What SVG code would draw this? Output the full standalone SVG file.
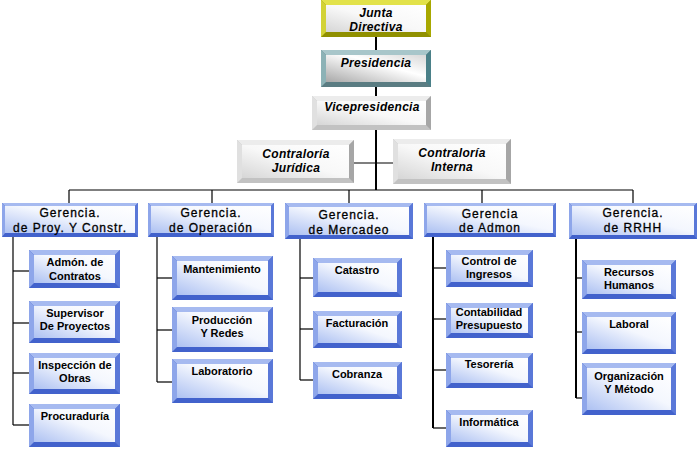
<svg xmlns="http://www.w3.org/2000/svg" width="699" height="455" viewBox="0 0 699 455">
<defs>
<linearGradient id="gBlue" x1="1" y1="0" x2="0" y2="1">
<stop offset="0" stop-color="#ffffff"/><stop offset="0.45" stop-color="#f4f7fe"/><stop offset="1" stop-color="#adc1f2"/>
</linearGradient>
<linearGradient id="gGray" x1="1" y1="0" x2="0" y2="1">
<stop offset="0" stop-color="#ffffff"/><stop offset="0.5" stop-color="#f8f8f8"/><stop offset="1" stop-color="#d6d6d6"/>
</linearGradient>
<linearGradient id="gPres" x1="1" y1="0" x2="0" y2="1">
<stop offset="0" stop-color="#d8d8d8"/><stop offset="0.4" stop-color="#ffffff"/><stop offset="1" stop-color="#a8a8a8"/>
</linearGradient>
</defs>
<style>
text{font-family:"Liberation Sans",Arial,sans-serif;fill:#000;text-anchor:middle}
.c{font-size:11px;font-weight:bold}
.g{font-size:12px;letter-spacing:1px;stroke:#000;stroke-width:0.3}
.t{font-size:12px;font-weight:bold;font-style:italic;letter-spacing:0.3px}
.b .bt{fill:#a6baf0}.b .bl{fill:#8ea6ea}.b .br{fill:#5a78d8}.b .bb{fill:#4262cc}.b .f{fill:url(#gBlue)}
.y .bt{fill:#e2e24a}.y .bl{fill:#d2d236}.y .br{fill:#a8a800}.y .bb{fill:#909000}.y .f{fill:url(#gGray)}
.p .bt{fill:#a8c6ca}.p .bl{fill:#8cb2b6}.p .br{fill:#4a8088}.p .bb{fill:#5a7c82}.p .f{fill:url(#gPres)}
.s .bt{fill:#ececec}.s .bl{fill:#e0e0e0}.s .br{fill:#a6a6a6}.s .bb{fill:#c2c2c2}.s .f{fill:url(#gGray)}
#conn line{stroke:#000;stroke-width:1.2}
#conn .tr{stroke-width:2}
</style>

<g id="conn">
<line class="tr" x1="376" y1="37" x2="376" y2="50"/>
<line class="tr" x1="376" y1="87" x2="376" y2="96"/>
<line class="tr" x1="376" y1="130" x2="376" y2="190"/>
<line x1="354" y1="163" x2="393" y2="163"/>
<line x1="69" y1="190" x2="633" y2="190"/>
<line x1="69" y1="190" x2="69" y2="203"/>
<line x1="212" y1="190" x2="212" y2="203"/>
<line x1="349" y1="190" x2="349" y2="203"/>
<line x1="482" y1="190" x2="482" y2="203"/>
<line x1="633" y1="190" x2="633" y2="203"/>
<line x1="13" y1="237" x2="13" y2="425"/>
<line x1="13" y1="271" x2="29" y2="271"/>
<line x1="13" y1="323" x2="29" y2="323"/>
<line x1="13" y1="373" x2="29" y2="373"/>
<line x1="13" y1="425" x2="29" y2="425"/>
<line x1="157" y1="237" x2="157" y2="382"/>
<line x1="157" y1="278" x2="172" y2="278"/>
<line x1="157" y1="330" x2="172" y2="330"/>
<line x1="157" y1="382" x2="172" y2="382"/>
<line x1="300" y1="239" x2="300" y2="380"/>
<line x1="300" y1="278" x2="313" y2="278"/>
<line x1="300" y1="329" x2="313" y2="329"/>
<line x1="300" y1="380" x2="313" y2="380"/>
<line class="tr" x1="433" y1="237" x2="433" y2="428"/>
<line x1="433" y1="268" x2="446" y2="268"/>
<line x1="433" y1="319" x2="446" y2="319"/>
<line x1="433" y1="370" x2="446" y2="370"/>
<line x1="433" y1="428" x2="446" y2="428"/>
<line class="tr" x1="576" y1="239" x2="576" y2="398"/>
<line x1="576" y1="278" x2="582" y2="278"/>
<line x1="576" y1="332" x2="582" y2="332"/>
<line x1="576" y1="398" x2="582" y2="398"/>
</g>

<!-- Top level -->
<g id="junta" class="y" transform="translate(321,0)">
<rect class="bb" width="110" height="37"/>
<polygon class="bt" points="0,0 110,0 105,5 5,5"/><polygon class="bl" points="0,0 5,5 5,32 0,37"/><polygon class="br" points="110,0 110,37 105,32 105,5"/>
<rect class="f" x="5" y="5" width="100" height="27"/>
<text class="t" x="55" y="17">Junta</text><text class="t" x="55" y="31">Directiva</text>
</g>
<g id="presidencia" class="p" transform="translate(321,50)">
<rect class="bb" width="110" height="37"/>
<polygon class="bt" points="0,0 110,0 105,5 5,5"/><polygon class="bl" points="0,0 5,5 5,32 0,37"/><polygon class="br" points="110,0 110,37 105,32 105,5"/>
<rect class="f" x="5" y="5" width="100" height="27"/>
<text class="t" x="55" y="17">Presidencia</text>
</g>
<g id="vicepresidencia" class="s" transform="translate(312,96)">
<rect class="bb" width="119" height="34"/>
<polygon class="bt" points="0,0 119,0 114,5 5,5"/><polygon class="bl" points="0,0 5,5 5,29 0,34"/><polygon class="br" points="119,0 119,34 114,29 114,5"/>
<rect class="f" x="5" y="5" width="109" height="24"/>
<text class="t" x="60" y="15">Vicepresidencia</text>
</g>
<g id="contraloria-juridica" class="s" transform="translate(237,140)">
<rect class="bb" width="117" height="43"/>
<polygon class="bt" points="0,0 117,0 112,5 5,5"/><polygon class="bl" points="0,0 5,5 5,38 0,43"/><polygon class="br" points="117,0 117,43 112,38 112,5"/>
<rect class="f" x="5" y="5" width="107" height="33"/>
<text class="t" x="59" y="18">Contraloría</text><text class="t" x="59" y="32">Jurídica</text>
</g>
<g id="contraloria-interna" class="s" transform="translate(393,139)">
<rect class="bb" width="118" height="45"/>
<polygon class="bt" points="0,0 118,0 113,5 5,5"/><polygon class="bl" points="0,0 5,5 5,40 0,45"/><polygon class="br" points="118,0 118,45 113,40 113,5"/>
<rect class="f" x="5" y="5" width="108" height="35"/>
<text class="t" x="59" y="18">Contraloría</text><text class="t" x="59" y="32">Interna</text>
</g>

<!-- Gerencias -->
<g id="ger-proy" class="b" transform="translate(2,203)">
<rect class="bb" width="136" height="34"/>
<polygon class="bt" points="0,0 136,0 133,3 3,3"/><polygon class="bl" points="0,0 3,3 3,30 0,34"/><polygon class="br" points="136,0 136,34 133,30 133,3"/>
<rect class="f" x="3" y="3" width="130" height="27"/>
<text class="g" x="68" y="14">Gerencia.</text><text class="g" x="68" y="29">de Proy. Y Constr.</text>
</g>
<g id="ger-operacion" class="b" transform="translate(148,203)">
<rect class="bb" width="126" height="34"/>
<polygon class="bt" points="0,0 126,0 123,3 3,3"/><polygon class="bl" points="0,0 3,3 3,30 0,34"/><polygon class="br" points="126,0 126,34 123,30 123,3"/>
<rect class="f" x="3" y="3" width="120" height="27"/>
<text class="g" x="63" y="14">Gerencia.</text><text class="g" x="63" y="29">de Operación</text>
</g>
<g id="ger-mercadeo" class="b" transform="translate(285,203)">
<rect class="bb" width="128" height="36"/>
<polygon class="bt" points="0,0 128,0 124,4 4,4"/><polygon class="bl" points="0,0 4,4 4,32 0,36"/><polygon class="br" points="128,0 128,36 124,32 124,4"/>
<rect class="f" x="4" y="4" width="120" height="28"/>
<text class="g" x="64" y="16">Gerencia.</text><text class="g" x="64" y="31">de Mercadeo</text>
</g>
<g id="ger-admon" class="b" transform="translate(424,203)">
<rect class="bb" width="132" height="34"/>
<polygon class="bt" points="0,0 132,0 129,3 3,3"/><polygon class="bl" points="0,0 3,3 3,30 0,34"/><polygon class="br" points="132,0 132,34 129,30 129,3"/>
<rect class="f" x="3" y="3" width="126" height="27"/>
<text class="g" x="66" y="15">Gerencia</text><text class="g" x="66" y="29">de Admon</text>
</g>
<g id="ger-rrhh" class="b" transform="translate(569,203)">
<rect class="bb" width="128" height="36"/>
<polygon class="bt" points="0,0 128,0 125,3 3,3"/><polygon class="bl" points="0,0 3,3 3,32 0,36"/><polygon class="br" points="128,0 128,36 125,32 125,3"/>
<rect class="f" x="3" y="3" width="122" height="29"/>
<text class="g" x="64" y="14">Gerencia.</text><text class="g" x="64" y="29">de RRHH</text>
</g>

<!-- Proy children -->
<g id="admon-contratos" class="b" transform="translate(29,250)">
<rect class="bb" width="91" height="38"/>
<polygon class="bt" points="0,0 91,0 86,5 5,5"/><polygon class="bl" points="0,0 5,5 5,33 0,38"/><polygon class="br" points="91,0 91,38 86,33 86,5"/>
<rect class="f" x="5" y="5" width="81" height="28"/>
<text class="c" x="46" y="16">Admón. de</text><text class="c" x="46" y="30">Contratos</text>
</g>
<g id="supervisor" class="b" transform="translate(29,301)">
<rect class="bb" width="91" height="42"/>
<polygon class="bt" points="0,0 91,0 86,5 5,5"/><polygon class="bl" points="0,0 5,5 5,37 0,42"/><polygon class="br" points="91,0 91,42 86,37 86,5"/>
<rect class="f" x="5" y="5" width="81" height="32"/>
<text class="c" x="46" y="16">Supervisor</text><text class="c" x="46" y="29">De Proyectos</text>
</g>
<g id="inspeccion" class="b" transform="translate(29,353)">
<rect class="bb" width="91" height="41"/>
<polygon class="bt" points="0,0 91,0 86,5 5,5"/><polygon class="bl" points="0,0 5,5 5,36 0,41"/><polygon class="br" points="91,0 91,41 86,36 86,5"/>
<rect class="f" x="5" y="5" width="81" height="31"/>
<text class="c" x="46" y="16">Inspección de</text><text class="c" x="46" y="29">Obras</text>
</g>
<g id="procuraduria" class="b" transform="translate(29,404)">
<rect class="bb" width="91" height="43"/>
<polygon class="bt" points="0,0 91,0 86,5 5,5"/><polygon class="bl" points="0,0 5,5 5,38 0,43"/><polygon class="br" points="91,0 91,43 86,38 86,5"/>
<rect class="f" x="5" y="5" width="81" height="33"/>
<text class="c" x="46" y="16">Procuraduría</text>
</g>

<!-- Operacion children -->
<g id="mantenimiento" class="b" transform="translate(172,256)">
<rect class="bb" width="101" height="44"/>
<polygon class="bt" points="0,0 101,0 96,5 5,5"/><polygon class="bl" points="0,0 5,5 5,39 0,44"/><polygon class="br" points="101,0 101,44 96,39 96,5"/>
<rect class="f" x="5" y="5" width="91" height="34"/>
<text class="c" x="50" y="17">Mantenimiento</text>
</g>
<g id="produccion" class="b" transform="translate(172,307)">
<rect class="bb" width="101" height="45"/>
<polygon class="bt" points="0,0 101,0 96,5 5,5"/><polygon class="bl" points="0,0 5,5 5,40 0,45"/><polygon class="br" points="101,0 101,45 96,40 96,5"/>
<rect class="f" x="5" y="5" width="91" height="35"/>
<text class="c" x="50" y="17">Producción</text><text class="c" x="50" y="30">Y Redes</text>
</g>
<g id="laboratorio" class="b" transform="translate(172,359)">
<rect class="bb" width="101" height="44"/>
<polygon class="bt" points="0,0 101,0 96,5 5,5"/><polygon class="bl" points="0,0 5,5 5,39 0,44"/><polygon class="br" points="101,0 101,44 96,39 96,5"/>
<rect class="f" x="5" y="5" width="91" height="34"/>
<text class="c" x="50" y="16">Laboratorio</text>
</g>

<!-- Mercadeo children -->
<g id="catastro" class="b" transform="translate(313,258)">
<rect class="bb" width="89" height="39"/>
<polygon class="bt" points="0,0 89,0 84,5 5,5"/><polygon class="bl" points="0,0 5,5 5,34 0,39"/><polygon class="br" points="89,0 89,39 84,34 84,5"/>
<rect class="f" x="5" y="5" width="79" height="29"/>
<text class="c" x="44" y="16">Catastro</text>
</g>
<g id="facturacion" class="b" transform="translate(313,311)">
<rect class="bb" width="89" height="37"/>
<polygon class="bt" points="0,0 89,0 84,5 5,5"/><polygon class="bl" points="0,0 5,5 5,32 0,37"/><polygon class="br" points="89,0 89,37 84,32 84,5"/>
<rect class="f" x="5" y="5" width="79" height="27"/>
<text class="c" x="44" y="16">Facturación</text>
</g>
<g id="cobranza" class="b" transform="translate(313,362)">
<rect class="bb" width="89" height="37"/>
<polygon class="bt" points="0,0 89,0 84,5 5,5"/><polygon class="bl" points="0,0 5,5 5,32 0,37"/><polygon class="br" points="89,0 89,37 84,32 84,5"/>
<rect class="f" x="5" y="5" width="79" height="27"/>
<text class="c" x="44" y="16">Cobranza</text>
</g>

<!-- Admon children -->
<g id="control-ingresos" class="b" transform="translate(446,250)">
<rect class="bb" width="87" height="37"/>
<polygon class="bt" points="0,0 87,0 82,5 5,5"/><polygon class="bl" points="0,0 5,5 5,32 0,37"/><polygon class="br" points="87,0 87,37 82,32 82,5"/>
<rect class="f" x="5" y="5" width="77" height="27"/>
<text class="c" x="43" y="15">Control de</text><text class="c" x="43" y="28">Ingresos</text>
</g>
<g id="contabilidad" class="b" transform="translate(446,303)">
<rect class="bb" width="87" height="35"/>
<polygon class="bt" points="0,0 87,0 82,5 5,5"/><polygon class="bl" points="0,0 5,5 5,30 0,35"/><polygon class="br" points="87,0 87,35 82,30 82,5"/>
<rect class="f" x="5" y="5" width="77" height="25"/>
<text class="c" x="43" y="13">Contabilidad</text><text class="c" x="43" y="26">Presupuesto</text>
</g>
<g id="tesoreria" class="b" transform="translate(446,353)">
<rect class="bb" width="87" height="35"/>
<polygon class="bt" points="0,0 87,0 82,5 5,5"/><polygon class="bl" points="0,0 5,5 5,30 0,35"/><polygon class="br" points="87,0 87,35 82,30 82,5"/>
<rect class="f" x="5" y="5" width="77" height="25"/>
<text class="c" x="43" y="15">Tesorería</text>
</g>
<g id="informatica" class="b" transform="translate(446,410)">
<rect class="bb" width="87" height="37"/>
<polygon class="bt" points="0,0 87,0 82,5 5,5"/><polygon class="bl" points="0,0 5,5 5,32 0,37"/><polygon class="br" points="87,0 87,37 82,32 82,5"/>
<rect class="f" x="5" y="5" width="77" height="27"/>
<text class="c" x="43" y="16">Informática</text>
</g>

<!-- RRHH children -->
<g id="recursos-humanos" class="b" transform="translate(582,260)">
<rect class="bb" width="94" height="39"/>
<polygon class="bt" points="0,0 94,0 89,5 5,5"/><polygon class="bl" points="0,0 5,5 5,34 0,39"/><polygon class="br" points="94,0 94,39 89,34 89,5"/>
<rect class="f" x="5" y="5" width="84" height="29"/>
<text class="c" x="47" y="16">Recursos</text><text class="c" x="47" y="29">Humanos</text>
</g>
<g id="laboral" class="b" transform="translate(582,312)">
<rect class="bb" width="94" height="42"/>
<polygon class="bt" points="0,0 94,0 89,5 5,5"/><polygon class="bl" points="0,0 5,5 5,37 0,42"/><polygon class="br" points="94,0 94,42 89,37 89,5"/>
<rect class="f" x="5" y="5" width="84" height="32"/>
<text class="c" x="47" y="16">Laboral</text>
</g>
<g id="organizacion" class="b" transform="translate(582,363)">
<rect class="bb" width="94" height="52"/>
<polygon class="bt" points="0,0 94,0 89,5 5,5"/><polygon class="bl" points="0,0 5,5 5,47 0,52"/><polygon class="br" points="94,0 94,52 89,47 89,5"/>
<rect class="f" x="5" y="5" width="84" height="42"/>
<text class="c" x="47" y="17">Organización</text><text class="c" x="47" y="30">Y Método</text>
</g>
</svg>
